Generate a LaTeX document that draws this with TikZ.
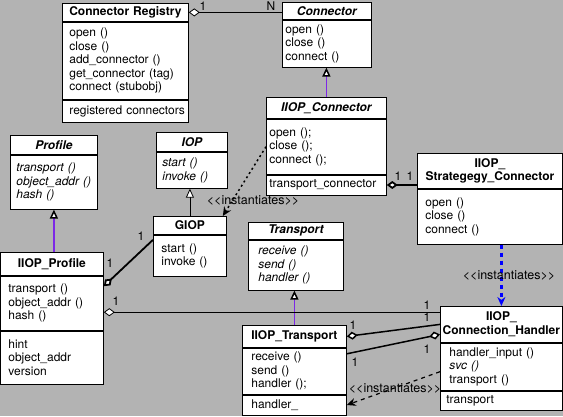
\documentclass[tikz,border=0pt]{standalone}
\usepackage{fontspec}
\setmainfont{TeX Gyre Heros}
\usepackage{tikz}
\usetikzlibrary{positioning,arrows.meta}
\definecolor{fondo}{RGB}{179,179,179}
\definecolor{violeta}{RGB}{125,40,230}
\newcommand{\inst}{\mbox{<}\mbox{<}instantiates\mbox{>}\mbox{>}}

\begin{document}
\begin{tikzpicture}[x=1pt,y=-1pt,
  font=\fontsize{12}{13.5}\selectfont,
  comp/.style={draw, fill=white, inner ysep=0pt, align=left, line width=0.8pt},
  titulo/.style={comp, align=center, inner xsep=1pt, font=\fontsize{12}{13.5}\selectfont\bfseries},
  abstracta/.style={titulo, font=\fontsize{12}{13.5}\selectfont\bfseries\itshape},
  agreg/.style={{Diamond[fill=white,length=11pt,width=8pt]}-},
  gen/.style={-{Triangle[fill=white,color=black,length=9pt,width=8pt]}},
  inst/.style={-{Stealth[length=9pt,width=8pt]}, dash pattern=on 2pt off 3pt, line width=1.5pt},
  rotulo/.style={font=\fontsize{12.5}{14}\selectfont}]
  \fill[fondo] (0,0) rectangle (563,416);
  \useasboundingbox (0,0) rectangle (563,416);

  % Clases
  \node[titulo, anchor=north west, text width=124, minimum height=18] (creg) at (62,3) {Connector Registry};
  \node[comp, below=0pt of creg, text width=112, inner xsep=7pt, minimum height=77] (cregm)
    {open ()\\close ()\\add\_connector ()\\get\_connector (tag)\\connect (stubobj)};
  \node[comp, below=0pt of cregm, text width=112, inner xsep=7pt, minimum height=22] (crega) {\mbox{registered connectors}};

  \node[abstracta, anchor=north west, text width=87, minimum height=17] (conn) at (282,2) {Connector};
  \node[comp, below=0pt of conn, text width=83, inner xsep=3pt, minimum height=47] (connm) {open ()\\close ()\\connect ()};

  \node[abstracta, anchor=north west, text width=118, minimum height=21] (iconn) at (266,97) {IIOP\_Connector};
  \node[comp, below=0pt of iconn, text width=114, inner xsep=3pt, minimum height=55] (iconnm) {open ();\\close ();\\connect ();};
  \node[comp, below=0pt of iconnm, text width=114, inner xsep=3pt, minimum height=20] (iconna) {\mbox{transport\_connector}};

  \node[titulo, anchor=north west, text width=143, minimum height=35] (strat) at (417,153) {IIOP\_\\Strategegy\_Connector};
  \node[comp, below=0pt of strat, text width=129, inner xsep=8pt, minimum height=55] (stratm) {open ()\\close ()\\connect ()};

  \node[abstracta, anchor=north west, text width=85, minimum height=19] (prof) at (10,135) {Profile};
  \node[comp, below=0pt of prof, text width=75, inner xsep=6pt, minimum height=54, font=\fontsize{12}{13.5}\selectfont\itshape] (profm)
    {transport ()\\object\_addr ()\\hash ()};

  \node[abstracta, anchor=north west, text width=69, minimum height=19] (iop) at (156,132) {IOP};
  \node[comp, below=0pt of iop, text width=59, inner xsep=6pt, minimum height=36, font=\fontsize{12}{13.5}\selectfont\itshape] (iopm)
    {start ()\\invoke ()};

  \node[titulo, anchor=north west, text width=71, minimum height=18] (giop) at (153,216) {GIOP};
  \node[comp, below=0pt of giop, text width=57, inner xsep=8pt, minimum height=41] (giopm) {start ()\\invoke ()};

  \node[titulo, anchor=north west, text width=101, minimum height=23] (iprof) at (0,252) {IIOP\_Profile};
  \node[comp, below=0pt of iprof, text width=87, inner xsep=8pt, minimum height=54] (iprofm) {transport ()\\object\_addr ()\\hash ()};
  \node[comp, below=0pt of iprofm, text width=87, inner xsep=8pt, minimum height=53] (iprofa) {hint\\object\_addr\\version};

  \node[abstracta, anchor=north west, text width=93, minimum height=17] (trans) at (248,222) {Transport};
  \node[comp, below=0pt of trans, text width=75, inner xsep=10pt, minimum height=50, font=\fontsize{12}{13.5}\selectfont\itshape] (transm)
    {receive ()\\send ()\\handler ()};

  \node[titulo, anchor=north west, text width=102, minimum height=22] (itrans) at (242,325) {IIOP\_Transport};
  \node[comp, below=0pt of itrans, text width=86, inner xsep=9pt, minimum height=46] (itransm) {receive ()\\send ()\\handler ();};
  \node[comp, below=0pt of itransm, text width=86, inner xsep=9pt, minimum height=20] (itransa) {handler\_};

  \node[titulo, anchor=north west, text width=120, minimum height=36] (chand) at (440,306) {IIOP\_\\Connection\_Handler};
  \node[comp, below=0pt of chand, text width=104, inner xsep=9pt, minimum height=47] (chandm)
    {handler\_input ()\\\textit{svc ()}\\transport ()};
  \node[comp, below=0pt of chandm, text width=110, inner xsep=6pt, minimum height=19] (chanda) {transport};

  % Generalizaciones
  \draw[gen, violeta, line width=1.5pt] (iconn.north) -- (iconn.north |- connm.south);
  \draw[gen, line width=0.8pt] (giop.north) -- (giop.north |- iopm.south);
  \draw[gen, violeta, line width=1.5pt] (profm.south |- iprof.north) -- (profm.south);
  \draw[gen, violeta, line width=1.5pt] (itrans.north) -- (itrans.north |- transm.south);

  % Agregaciones
  \draw[agreg, line width=0.8pt] (creg.east) -- (creg.east -| conn.west);
  \draw[agreg, line width=1.8pt] (iconna.east) -- (iconna.east -| strat.west);
  \draw[agreg, line width=1.8pt] ([yshift=17pt]iprofm.east) -- ([yshift=-5pt]giopm.north west);
  \draw[agreg, line width=0.8pt] ([yshift=-9pt]iprofm.east) -- ([yshift=-9pt]iprofm.east -| chand.west);
  \draw[agreg, line width=1.5pt] (itrans.east) -- (chand.west);
  \draw[agreg, line width=1.5pt] ([yshift=-10pt]chand.west) -- ([yshift=-6pt]itransm.north east);

  % Multiplicidades
  \node (m1) at (203,6) {1};
  \node (m2) at (271,6) {N};
  \node (m3) at (398,176) {1};
  \node (m4) at (410,176) {1};
  \node (m5) at (110,263) {1};
  \node (m6) at (141,236) {1};
  \node (m7) at (116,301) {1};
  \node (m8) at (427,305) {1};
  \node (m9) at (353,325) {1};
  \node (m10) at (427,317) {1};
  \node (m11) at (427,349) {1};
  \node (m12) at (355,362) {1};

  % Instancias
  \draw[inst] (iconnm.west) -- ([xshift=-4pt]giop.north east);
  \draw[inst, blue, line width=2.2pt, dash pattern=on 4pt off 4pt] (chand.north |- stratm.south) -- (chand.north);
  \draw[inst, dash pattern=on 4pt off 4pt, line width=1.2pt] ([yshift=-5pt]chandm.west) -- (itransa.east);
  \node[rotulo] (iA) at (253,201) {\inst};
  \node[rotulo] (iB) at (509,276) {\inst};
  \node[rotulo] (iC) at (395,389) {\inst};
\end{tikzpicture}
\end{document}
